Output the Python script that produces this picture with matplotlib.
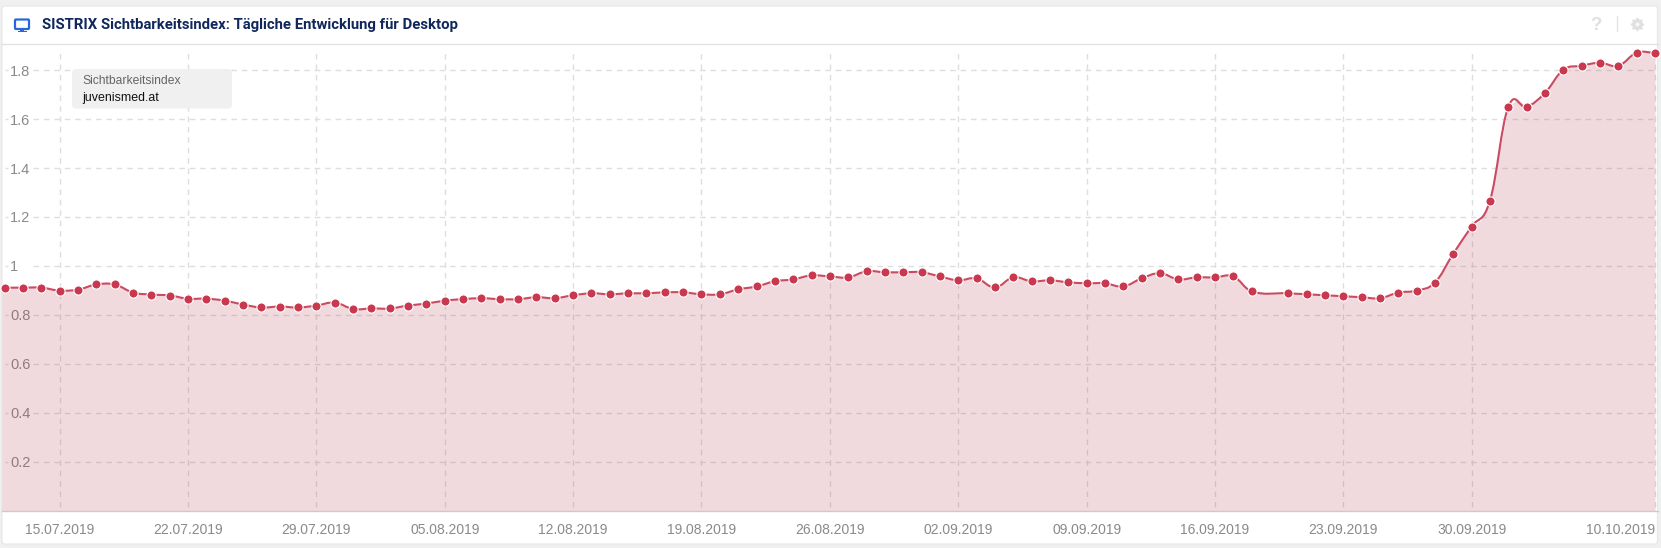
import matplotlib
matplotlib.use("Agg")
import matplotlib.pyplot as plt
import matplotlib.dates as mdates
from matplotlib.patches import FancyBboxPatch, Rectangle, PathPatch
from matplotlib.path import Path
import numpy as np
import pandas as pd

W, H = 1661, 548

# daily values from 12.07.2019, nan = no data that day
values = [0.911, 0.911, 0.911, 0.899, 0.903, 0.924, 0.924, 0.891, 0.883, 0.879,
          0.866, 0.866, 0.858, 0.842, 0.830, 0.834, 0.830, 0.838, 0.850, 0.824,
          0.826, 0.826, 0.838, 0.846, 0.858, 0.864, 0.868, 0.864, 0.864, 0.872,
          0.868, 0.880, 0.888, 0.884, 0.888, 0.888, 0.892, 0.892, 0.884, 0.884,
          0.904, 0.916, 0.937, 0.945, 0.961, 0.957, 0.953, 0.978, 0.974, 0.974,
          0.974, 0.957, 0.941, 0.949, 0.912, 0.953, 0.937, 0.941, 0.933, 0.929,
          0.929, 0.916, 0.949, 0.970, 0.945, 0.953, 0.953, 0.957, 0.896, np.nan,
          0.888, 0.884, 0.880, 0.876, 0.872, 0.868, 0.891, 0.899, 0.932, 1.05,
          1.161, 1.267, 1.65, 1.65, 1.707, 1.801, 1.818, 1.83, 1.818, 1.871, 1.871]
y_ticks = [0.2, 0.4, 0.6, 0.8, 1.0, 1.2, 1.4, 1.6, 1.8]
y_labels = ["0.2", "0.4", "0.6", "0.8", "1", "1.2", "1.4", "1.6", "1.8"]
x_ticks = ["2019-07-15", "2019-07-22", "2019-07-29", "2019-08-05", "2019-08-12",
           "2019-08-19", "2019-08-26", "2019-09-02", "2019-09-09", "2019-09-16",
           "2019-09-23", "2019-09-30", "2019-10-10"]
title = "SISTRIX Sichtbarkeitsindex: Tägliche Entwicklung für Desktop"

dates = pd.date_range("2019-07-12", periods=len(values), freq="D")
days = mdates.date2num(dates)
vals = np.array(values)
keep = ~np.isnan(vals)
xs, ys = days[keep], vals[keep]
tick_days = mdates.date2num(pd.to_datetime(x_ticks))

LINE = "#cb4a62"
GRID = "#dedede"
TICK = "#8a8a8a"
ICON = "#e0e0e0"

plt.rcParams["font.family"] = ["Liberation Sans", "DejaVu Sans"]
fig = plt.figure(figsize=(W / 100, H / 100), dpi=100, facecolor="#f0f0f0")

# background layer in pixel coordinates
bg = fig.add_axes([0, 0, 1, 1], zorder=0)
bg.axis("off")
bg.add_patch(FancyBboxPatch((2, 6), 1655.5, 538, boxstyle="round,pad=0,rounding_size=3",
                            fc="white", ec="#e6e6e6", lw=0.8))
grad = np.linspace(1, 0.96, 40).reshape(-1, 1)
bg.imshow(grad, extent=(2, 1657.5, 43, 7), cmap="gray", vmin=0, vmax=1, aspect="auto")
bg.set_xlim(0, W)
bg.set_ylim(H, 0)
bg.plot([2, 1657.5], [43.5, 43.5], color="#e2e2e2", lw=1)

# monitor icon
bg.add_patch(FancyBboxPatch((15, 19.5), 14, 9.5, boxstyle="round,pad=0,rounding_size=1",
                            fc="none", ec="#2b66d8", lw=1.6))
bg.add_patch(Rectangle((20, 29), 4, 2, fc="#2b66d8", ec="none"))
bg.add_patch(Rectangle((17.5, 31), 9, 1.4, fc="#2b66d8", ec="none"))

bg.text(42, 25.5, title, family="Roboto", weight="bold", fontsize=10.7, color="#10275c",
        va="center", ha="left")
bg.text(1596, 25, "?", weight="bold", fontsize=13.5, color=ICON, ha="center", va="center")
bg.plot([1616.5, 1616.5], [16, 31], color="#e2e2e2", lw=1)
# gear icon
bg.plot([1637], [24], marker=(8, 1, 0), ms=9.5, mfc=ICON, mec=ICON, mew=1)
bg.plot([1637], [24], marker="o", ms=6.8, mfc=ICON, mec=ICON)
bg.plot([1637], [24], marker="o", ms=2.8, mfc="#f9f9f9", mec="none")

# chart layer, axes run from the panel edges to the baseline
ax = fig.add_axes([2 / W, 1 - 510.6 / H, 1655.5 / W, (510.6 - 44) / H], zorder=1)
ax.patch.set_alpha(0)
px_per_day = (1655 - 4.7) / 90
ax.set_xlim(days[0] - 2.7 / px_per_day, days[-1] + 2.5 / px_per_day)
ax.set_ylim(0, (510.6 - 44) / 244.7)
for s in ["top", "left", "right"]:
    ax.spines[s].set_visible(False)
ax.spines["bottom"].set_color("#dcc3c8")
ax.spines["bottom"].set_linewidth(1)

# smooth path through the points, same tangent rule the web chart uses
verts = [(xs[0], ys[0])]
codes = [Path.MOVETO]
ty = np.empty_like(ys)
ty[1:-1] = (ys[2:] - ys[:-2]) / (xs[2:] - xs[:-2])
ty[0] = ty[-1] = 0
for i in range(len(xs) - 1):
    d = xs[i + 1] - xs[i]
    verts += [(xs[i] + 0.4 * d, ys[i] + 0.4 * d * ty[i]),
              (xs[i + 1] - 0.4 * d, ys[i + 1] - 0.4 * d * ty[i + 1]),
              (xs[i + 1], ys[i + 1])]
    codes += [Path.CURVE4] * 3
curve = Path(verts, codes)

# fill follows the curve down to zero
fine = curve.to_polygons(closed_only=False)[0]
fill_x = np.concatenate([[ax.get_xlim()[0]], fine[:, 0]])
fill_y = np.concatenate([[ys[0]], fine[:, 1]])
ax.fill_between(fill_x, fill_y, 0, color="#ac3748", alpha=0.18, lw=0, zorder=2)

# grid lines stop short of the plot edges and leave room for the y labels
dash = (0, (4, 3.5))
ax.hlines(y_ticks, days[0] + 28 / px_per_day, days[-1], color=GRID, lw=1, linestyles=dash, zorder=1)
ax.hlines(y_ticks, days[0], days[0] + 3.5 / px_per_day, color=GRID, lw=1, zorder=1)
ax.vlines(tick_days, 4 / 244.7, (510.6 - 53) / 244.7, color=GRID, lw=1, linestyles=dash, zorder=1)

ax.add_patch(PathPatch(curve, fc="none", ec=LINE, lw=1.5, zorder=3))
ax.plot(xs, ys, ls="none", marker="o", ms=6.6, mfc="#c9384f", mec="white", mew=0.8, zorder=4,
        clip_on=False)

ax.set_yticks(y_ticks, y_labels)
ax.set_xticks(tick_days, [d.strftime("%d.%m.%Y") for d in pd.to_datetime(x_ticks)])
ax.tick_params(axis="both", length=0, labelcolor=TICK)
ax.tick_params(axis="y", pad=-5.8, labelsize=10.5)
ax.tick_params(axis="x", pad=9, labelsize=10)
for lab in ax.get_yticklabels():
    lab.set_ha("left")
ax.get_xticklabels()[-1].set_ha("right")

# series label box sits above the grid
top = fig.add_axes([0, 0, 1, 1], zorder=2)
top.axis("off")
top.set_xlim(0, W)
top.set_ylim(H, 0)
top.add_patch(FancyBboxPatch((72, 69), 160, 39.5, boxstyle="round,pad=0,rounding_size=4",
                             fc="#f0f0f0", ec="none"))
top.text(82, 81.5, "Sichtbarkeitsindex", fontsize=8.7, color="#666666", va="center")
top.text(82, 97.5, "juvenismed.at", fontsize=8.9, color="#111111", va="center")

fig.savefig("out.png", dpi=100)
